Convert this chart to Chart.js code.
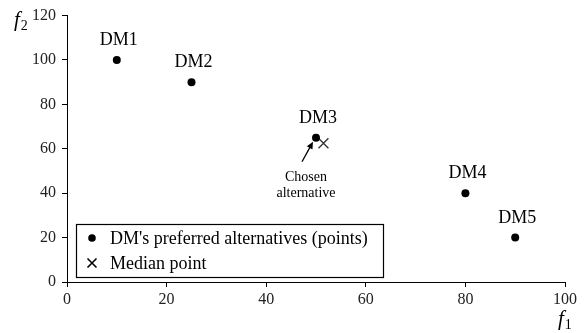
<!DOCTYPE html>
<html>
<head>
<meta charset="utf-8">
<script src="https://cdn.jsdelivr.net/npm/chart.js@4/dist/chart.umd.min.js"></script>
<style>
  html, body { margin: 0; padding: 0; background: #fff; }
  #wrap { width: 585px; height: 333px; position: relative; }
</style>
</head>
<body>
<div id="wrap"><canvas id="c" width="585" height="333"></canvas></div>
<script>
// Decision makers and their preferred alternatives in objective space (f1, f2)
const dmNames = ['DM1', 'DM2', 'DM3', 'DM4', 'DM5'];
const f1Values = [10, 25, 50, 80, 90];
const f2Values = [100, 90, 65, 40, 20];

// Median of the preferred alternatives
const medianF1 = [51.5];
const medianF2 = [62.5];

// Axis ticks
const xTicks = [0, 20, 40, 60, 80, 100];
const yTicks = [0, 20, 40, 60, 80, 100, 120];

// Legend entries
const legendLabels = ["DM's preferred alternatives (points)", 'Median point'];
const chosenNote = ['Chosen', 'alternative'];
const chosenIndex = 2;

const SERIF = '"Liberation Serif", "Times New Roman", serif';
const INK = '#000';

const prefPoints = f1Values.map((x, i) => ({ x, y: f2Values[i] }));
const medianPoints = medianF1.map((x, i) => ({ x, y: medianF2[i] }));

const annotations = {
  id: 'annotations',
  afterDatasetsDraw(chart) {
    const { ctx, scales, chartArea } = chart;
    const xs = scales.x, ys = scales.y;
    ctx.save();

    // DM labels above each point
    ctx.fillStyle = INK;
    ctx.font = '18px ' + SERIF;
    ctx.textAlign = 'center';
    ctx.textBaseline = 'alphabetic';
    dmNames.forEach((name, i) => {
      const px = xs.getPixelForValue(f1Values[i]);
      const py = ys.getPixelForValue(f2Values[i]);
      ctx.fillText(name, px + 2, py - 15);
    });

    // Arrow pointing at the chosen alternative
    const cx = xs.getPixelForValue(f1Values[chosenIndex]);
    const cy = ys.getPixelForValue(f2Values[chosenIndex]);
    const hx = cx - 3, hy = cy + 4;
    const tx = cx - 14, ty = cy + 24;
    const ang = Math.atan2(hy - ty, hx - tx);
    ctx.strokeStyle = INK;
    ctx.lineWidth = 1.3;
    ctx.beginPath();
    ctx.moveTo(tx, ty);
    ctx.lineTo(hx - 5 * Math.cos(ang), hy - 5 * Math.sin(ang));
    ctx.stroke();
    ctx.beginPath();
    ctx.moveTo(hx, hy);
    ctx.lineTo(hx - 7 * Math.cos(ang) + 3.2 * Math.sin(ang), hy - 7 * Math.sin(ang) - 3.2 * Math.cos(ang));
    ctx.lineTo(hx - 7 * Math.cos(ang) - 3.2 * Math.sin(ang), hy - 7 * Math.sin(ang) + 3.2 * Math.cos(ang));
    ctx.closePath();
    ctx.fillStyle = INK;
    ctx.fill();

    // "Chosen alternative" note under the arrow
    ctx.font = '14px ' + SERIF;
    ctx.textAlign = 'center';
    ctx.textBaseline = 'middle';
    chosenNote.forEach((t, i) => ctx.fillText(t, cx - 10, cy + 40 + i * 16));

    // Legend box in the lower-left of the plot area
    const lx = chartArea.left + 9, ly = chartArea.bottom - 58;
    const lw = 307, lh = 53;
    ctx.lineWidth = 1.2;
    ctx.strokeStyle = INK;
    ctx.strokeRect(lx + 0.5, ly + 0.5, lw, lh);
    ctx.font = '18px ' + SERIF;
    ctx.textAlign = 'left';
    ctx.textBaseline = 'middle';
    const row1 = ly + 14, row2 = ly + 39;
    ctx.beginPath();
    ctx.arc(lx + 16, row1, 3.8, 0, Math.PI * 2);
    ctx.fill();
    ctx.lineWidth = 1.6;
    ctx.beginPath();
    ctx.moveTo(lx + 11.5, row2 - 4.5); ctx.lineTo(lx + 20.5, row2 + 4.5);
    ctx.moveTo(lx + 20.5, row2 - 4.5); ctx.lineTo(lx + 11.5, row2 + 4.5);
    ctx.stroke();
    ctx.fillText(legendLabels[0], lx + 34, row1 + 1);
    ctx.fillText(legendLabels[1], lx + 34, row2 + 1);

    // Axis titles: italic f with subscripts
    const drawTitle = (x, y, sub) => {
      ctx.textAlign = 'left';
      ctx.textBaseline = 'alphabetic';
      ctx.font = 'italic 21px ' + SERIF;
      ctx.fillText('f', x, y);
      const w = ctx.measureText('f').width;
      ctx.font = '14px ' + SERIF;
      ctx.fillText(sub, x + w + 1, y + 4);
    };
    drawTitle(14, 26, '2');
    drawTitle(558, 325, '1');

    ctx.restore();
  }
};

new Chart(document.getElementById('c'), {
  type: 'scatter',
  data: {
    datasets: [
      {
        label: legendLabels[0],
        data: prefPoints,
        pointStyle: 'circle',
        pointRadius: 4,
        pointHoverRadius: 4,
        backgroundColor: INK,
        borderColor: INK,
        borderWidth: 0
      },
      {
        label: legendLabels[1],
        data: medianPoints,
        pointStyle: 'cross',
        rotation: 45,
        pointRadius: 7,
        pointHoverRadius: 7,
        borderColor: '#333',
        borderWidth: 1.3
      }
    ]
  },
  options: {
    responsive: false,
    animation: false,
    events: [],
    layout: { padding: { top: 14, right: 20, left: 0, bottom: 0 } },
    plugins: { legend: { display: false }, tooltip: { enabled: false } },
    scales: {
      x: {
        type: 'linear',
        min: 0, max: 100,
        afterBuildTicks: s => { s.ticks = xTicks.map(v => ({ value: v })); },
        afterFit: s => { s.height = 51; },
        grid: { drawOnChartArea: false, drawTicks: true, tickLength: 5, color: INK, lineWidth: 1 },
        border: { color: INK, width: 1 },
        ticks: { color: '#222', font: { family: SERIF, size: 16 }, padding: 3, maxRotation: 0 }
      },
      y: {
        type: 'linear',
        min: 0, max: 120,
        afterBuildTicks: s => { s.ticks = yTicks.map(v => ({ value: v })); },
        afterFit: s => { s.width = 67; },
        grid: { drawOnChartArea: false, drawTicks: true, tickLength: 5, color: INK, lineWidth: 1 },
        border: { color: INK, width: 1 },
        ticks: { color: '#222', font: { family: SERIF, size: 16 }, padding: 6 }
      }
    }
  },
  plugins: [annotations]
});
</script>
</body>
</html>
